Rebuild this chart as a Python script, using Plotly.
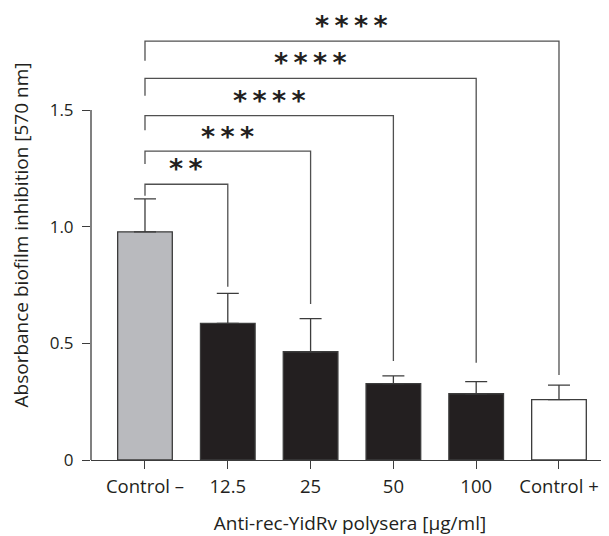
import plotly.graph_objects as go

categories = ["Control \u2013", "12.5", "25", "50", "100", "Control +"]
means = [0.978, 0.586, 0.464, 0.327, 0.284, 0.259]
errors = [0.141, 0.128, 0.142, 0.034, 0.052, 0.062]
bar_colors = ["#b9babe", "#231f20", "#231f20", "#231f20", "#231f20", "#ffffff"]

# significance brackets: Control – vs each other group
targets = [1, 2, 3, 4, 5]
bracket_heights = [1.182, 1.324, 1.476, 1.636, 1.796]
bracket_left_bottoms = [1.133, 1.269, 1.414, 1.561, 1.711]
bracket_right_bottoms = [0.743, 0.669, 0.424, 0.417, 0.364]
star_labels = ["**", "***", "****", "****", "****"]
star_y = [1.270, 1.410, 1.564, 1.726, 1.886]

ytick_vals = [0, 0.5, 1.0, 1.5]
ytick_text = ["0", "0.5", "1.0", "1.5"]

FONT = "Open Sans"
TXT = "#231f20"
LINE = "#3c3c3c"

idx = list(range(len(categories)))

fig = go.Figure()
fig.add_trace(go.Bar(
    x=idx, y=means, width=0.66,
    marker=dict(color=bar_colors, line=dict(color=LINE, width=1.3)),
    error_y=dict(type="data", array=errors, arrayminus=[0] * len(errors),
                 symmetric=False, color=LINE, thickness=1.3, width=11),
    showlegend=False,
))

for t, h, lb, rb in zip(targets, bracket_heights, bracket_left_bottoms, bracket_right_bottoms):
    fig.add_trace(go.Scatter(
        x=[0, 0, t, t], y=[lb, h, h, rb], mode="lines",
        line=dict(color="#505050", width=1.3), showlegend=False,
        hoverinfo="skip", cliponaxis=False,
    ))

for t, s, sy in zip(targets, star_labels, star_y):
    fig.add_annotation(
        x=t / 2, y=sy, text="\u2009".join(s), showarrow=False,
        xanchor="center", yanchor="middle", yshift=-5,
        font=dict(family="DejaVu Sans", size=27, color=TXT, weight="bold"),
    )

# y axis line only up to the top tick
fig.add_shape(type="line", xref="paper", yref="y", x0=0, x1=0,
              y0=min(ytick_vals), y1=max(ytick_vals),
              line=dict(color=LINE, width=1.3))

fig.update_layout(
    width=601, height=528,
    margin=dict(l=83, r=0, t=2, b=76, autoexpand=False),
    plot_bgcolor="white", paper_bgcolor="white",
    font=dict(family=FONT, size=18, color=TXT),
    xaxis=dict(
        range=[-0.652, 5.604], tickmode="array", tickvals=idx, ticktext=categories,
        showline=True, linecolor=LINE, linewidth=1.3,
        ticks="outside", ticklen=8, tickwidth=1.3, tickcolor=LINE,
        showgrid=False, zeroline=False, automargin=False,
        ticklabelstandoff=2,
        tickfont=dict(family=FONT, size=18.5, color=TXT),
        title=dict(text="Anti-rec-YidRv polysera [\u00b5g/ml]", standoff=19,
                   font=dict(family=FONT, size=19, color=TXT)),
    ),
    yaxis=dict(
        range=[0, 1.929], tickmode="array", tickvals=ytick_vals, ticktext=ytick_text,
        showline=False, ticks="outside", ticklen=8, tickwidth=1.3, tickcolor=LINE,
        showgrid=False, zeroline=False, automargin=False,
        ticklabelstandoff=5,
        tickfont=dict(family=FONT, size=17, color=TXT),
        title=dict(text="Absorbance biofilm inhibition [570 nm]", standoff=22,
                   font=dict(family=FONT, size=19, color=TXT)),
    ),
)

fig.write_html("out.html")
